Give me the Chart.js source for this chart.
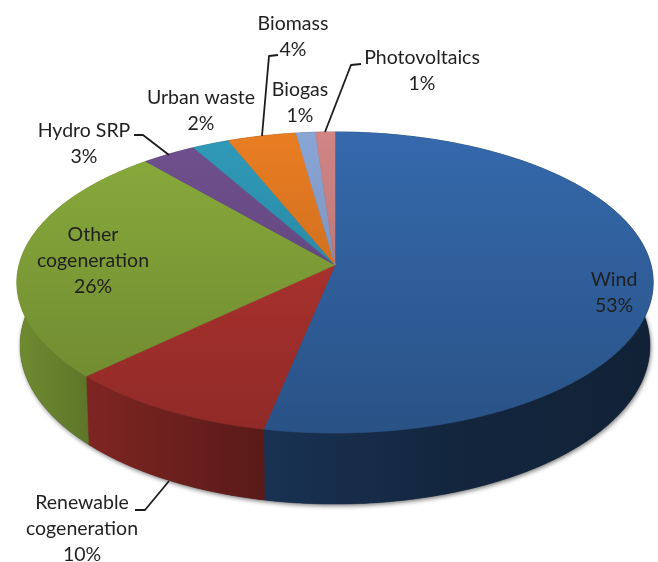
<!DOCTYPE html>
<html>
<head>
<meta charset="utf-8">
<style>
  html, body { margin: 0; padding: 0; background: #fff; }
  canvas { display: block; filter: blur(0.4px); }
</style>
<script src="https://cdn.jsdelivr.net/npm/chart.js@4"></script>
</head>
<body>
<canvas id="pieChart" width="658" height="562"></canvas>
<script>
const categories = ["Wind", "Renewable cogeneration", "Other cogeneration", "Hydro SRP", "Urban waste", "Biomass", "Biogas", "Photovoltaics"];
const shares = [53.2, 9.7, 25.8, 3.1, 2.1, 3.9, 1.1, 1.1];
const sliceColors = ["#3569ac", "#b93632", "#8aac3c", "#70508f", "#2f9ab8", "#e97d22", "#8aa6d6", "#d18585"];

// text blocks: lines, centre x, first line middle y
const labelBlocks = [
    { lines: ["Wind", "53%"], x: 614, y: 280 },
    { lines: ["Renewable", "cogeneration", "10%"], x: 82, y: 503 },
    { lines: ["Other", "cogeneration", "26%"], x: 93, y: 235 },
    { lines: ["Hydro SRP", "3%"], x: 84, y: 131 },
    { lines: ["Urban waste", "2%"], x: 201, y: 98 },
    { lines: ["Biomass", "4%"], x: 293, y: 24 },
    { lines: ["Biogas", "1%"], x: 300, y: 90 },
    { lines: ["Photovoltaics", "1%"], x: 422, y: 58 }
];
const leaderLines = [
    [[135, 510], [145, 510], [169, 481]],
    [[134, 135], [143, 135], [169, 155]],
    [[278, 55], [269, 56], [262, 136]],
    [[361, 64], [351, 65], [325, 132]]
];

// perspective of the tilted disc
const view = { cx: 335, cy: 265, a: 316, b: 117.7, g: -0.1163 };
const wallLight = [[20, 0.8], [90, 0.68], [265, 0.48], [450, 0.36], [650, 0.32]];

function project(angle) {
    const x = Math.cos(angle), y = Math.sin(angle);
    const w = 1 + view.g * y;
    return { x: view.cx + view.a * x / w, y: (view.cy + view.b * y) / w, u: y };
}

function projectBottom(angle) {
    const p = project(angle);
    return { x: view.cx + (p.x - view.cx) * 0.99, y: p.y + 62 + 9 * p.u };
}

function shade(hex, f) {
    const n = parseInt(hex.slice(1), 16);
    const c = [n >> 16, (n >> 8) & 255, n & 255].map(v => Math.round(v * f));
    return `rgb(${c[0]},${c[1]},${c[2]})`;
}

function arcPoints(start, end, fn) {
    const steps = Math.max(2, Math.ceil((end - start) / 0.01));
    const pts = [];
    for (let i = 0; i <= steps; i++) pts.push(fn(start + (end - start) * i / steps));
    return pts;
}

function tracePath(ctx, pts) {
    ctx.beginPath();
    pts.forEach((p, i) => i ? ctx.lineTo(p.x, p.y) : ctx.moveTo(p.x, p.y));
    ctx.closePath();
}

const tiltedPie = {
    id: "tiltedPie",
    beforeDatasetDraw(chart, args) {
        const ctx = chart.ctx;
        const arcs = chart.getDatasetMeta(args.index).data;
        const colors = chart.data.datasets[args.index].backgroundColor;

        // soft shadow under the disc
        ctx.save();
        ctx.shadowColor = "rgba(0,0,0,0.5)";
        ctx.shadowBlur = 4;
        ctx.shadowOffsetX = 1;
        ctx.shadowOffsetY = 2;
        ctx.fillStyle = "#333";
        tracePath(ctx, arcPoints(0, Math.PI * 2, projectBottom));
        ctx.fill();
        ctx.restore();

        // side wall
        arcs.forEach((arc, i) => {
            const grad = ctx.createLinearGradient(0, 0, chart.width, 0);
            wallLight.forEach(s => grad.addColorStop(s[0] / chart.width, shade(colors[i], s[1])));
            const top = arcPoints(arc.startAngle, arc.endAngle, project);
            const bottom = arcPoints(arc.startAngle, arc.endAngle, projectBottom).reverse();
            tracePath(ctx, top.concat(bottom));
            ctx.fillStyle = grad;
            ctx.strokeStyle = grad;
            ctx.lineWidth = 0.5;
            ctx.fill();
            ctx.stroke();
        });

        // top face
        arcs.forEach((arc, i) => {
            const grad = ctx.createLinearGradient(0, 132, 0, 433);
            grad.addColorStop(0, colors[i]);
            grad.addColorStop(1, shade(colors[i], 0.78));
            const pts = arcPoints(arc.startAngle, arc.endAngle, project);
            pts.unshift({ x: view.cx, y: view.cy });
            tracePath(ctx, pts);
            ctx.fillStyle = grad;
            ctx.strokeStyle = grad;
            ctx.lineWidth = 0.5;
            ctx.fill();
            ctx.stroke();
        });
        return false;
    },
    afterDraw(chart) {
        const ctx = chart.ctx;
        ctx.save();
        ctx.strokeStyle = "#1c1c1c";
        ctx.lineWidth = 1.8;
        ctx.lineJoin = "round";
        leaderLines.forEach(line => {
            ctx.beginPath();
            line.forEach((p, i) => i ? ctx.lineTo(p[0], p[1]) : ctx.moveTo(p[0], p[1]));
            ctx.stroke();
        });
        ctx.fillStyle = "#1f1f1f";
        ctx.font = "19.5px Lato";
        ctx.textAlign = "center";
        ctx.textBaseline = "middle";
        labelBlocks.forEach(block => {
            block.lines.forEach((text, i) => ctx.fillText(text, block.x, block.y + i * 26));
        });
        ctx.restore();
    }
};

new Chart(document.getElementById("pieChart"), {
    type: "pie",
    data: {
        labels: categories,
        datasets: [{ data: shares, backgroundColor: sliceColors, borderWidth: 0 }]
    },
    options: {
        responsive: false,
        animation: false,
        plugins: { legend: { display: false }, tooltip: { enabled: false } }
    },
    plugins: [tiltedPie]
});
</script>
</body>
</html>
